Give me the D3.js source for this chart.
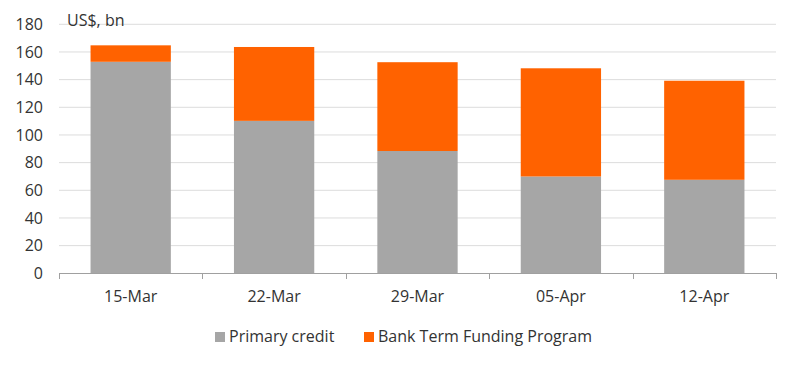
<!DOCTYPE html>
<html><head><meta charset="utf-8">
<script src="https://cdn.jsdelivr.net/npm/d3@7"></script>
<style>body{margin:0;background:#fff;}svg{display:block;font-family:"Open Sans","Noto Sans",sans-serif;}</style>
</head><body><svg id="c" width="800" height="368"></svg>
<script>
const categories = ["15-Mar","22-Mar","29-Mar","05-Apr","12-Apr"];
const primaryCredit = [152.9, 110.2, 88.4, 70.0, 67.6];
const btfp = [11.9, 53.4, 64.2, 78.2, 71.6];
const seriesNames = ["Primary credit","Bank Term Funding Program"];
const seriesColors = ["#a6a6a6","#ff6200"];
const yTicks = [0,20,40,60,80,100,120,140,160,180];
const unitLabel = "US$, bn";

const svg = d3.select("#c");
const x = d3.scaleBand().domain(categories).range([59, 776]).paddingInner(0.44).paddingOuter(0.22);
const y = d3.scaleLinear().domain([0,180]).range([273.3, 24.3]);

// gridlines
svg.append("g").selectAll("line").data(yTicks.filter(d=>d>0)).join("line")
  .attr("x1",59).attr("x2",776).attr("y1",d=>y(d)).attr("y2",d=>y(d))
  .attr("stroke","#dcdcdc").attr("stroke-width",1);

const data = categories.map((c,i)=>({cat:c, primary:primaryCredit[i], btfp:btfp[i]}));
const stack = d3.stack().keys(["primary","btfp"])(data);
svg.append("g").selectAll("g").data(stack).join("g")
  .attr("fill",(d,i)=>seriesColors[i])
  .selectAll("rect").data(d=>d).join("rect")
  .attr("x",d=>x(d.data.cat)).attr("width",x.bandwidth())
  .attr("y",d=>y(d[1])).attr("height",d=>y(d[0])-y(d[1]));

// y axis labels
svg.append("g").selectAll("text").data(yTicks).join("text")
  .attr("x",43).attr("y",d=>y(d)).attr("dy","0.35em").attr("text-anchor","end")
  .attr("font-size",16).attr("fill","#333").text(d=>d);

// x axis
const xAxis = svg.append("g");
xAxis.append("line").attr("x1",59).attr("x2",776).attr("y1",273.5).attr("y2",273.5).attr("stroke","#a0a0a0");
const step = x.step();
const bounds = d3.range(categories.length+1).map(i=>59 + i*(776-59)/categories.length);
xAxis.selectAll("line.t").data(bounds).join("line").attr("class","t")
  .attr("x1",d=>Math.round(d)+0.5).attr("x2",d=>Math.round(d)+0.5).attr("y1",273).attr("y2",279).attr("stroke","#a0a0a0");
xAxis.selectAll("text").data(categories).join("text")
  .attr("x",d=>x(d)+x.bandwidth()/2).attr("y",302).attr("text-anchor","middle")
  .attr("font-size",16).attr("fill","#333").text(d=>d);

svg.append("text").attr("x",67).attr("y",26).attr("font-size",16).attr("fill","#333").text(unitLabel);

// legend
const leg = [{x:215},{x:364}];
seriesNames.forEach((n,i)=>{
  svg.append("rect").attr("x",leg[i].x).attr("y",332).attr("width",10).attr("height",10).attr("fill",seriesColors[i]);
  svg.append("text").attr("x",leg[i].x+14).attr("y",342).attr("font-size",16).attr("fill","#333").text(n);
});
</script></body></html>
